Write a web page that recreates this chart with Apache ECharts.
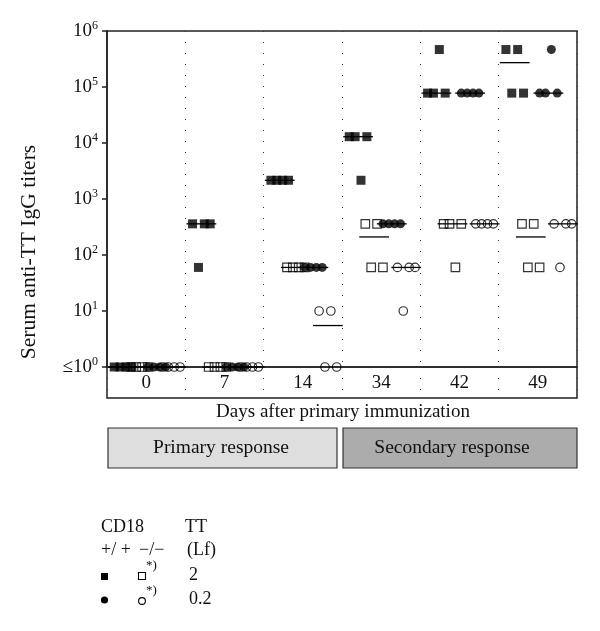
<!DOCTYPE html>
<html><head><meta charset="utf-8">
<script src="https://cdn.jsdelivr.net/npm/echarts@6/dist/echarts.min.js"></script>
<style>html,body{margin:0;padding:0;background:#fff}#c{width:600px;height:631px}</style>
</head><body><div id="c"></div>
<script>
// ---- data ----
const days = ['0', '7', '14', '34', '42', '49'];
// serum anti-TT IgG titers per day, listed left-to-right as plotted
const wtHigh = [[1,1,1,1],[360,60,360,360],[2160,2160,2160,2160],[12960,12960,2160,12960],[77760,77760,466560,77760],[466560,77760,466560,77760]]; // CD18+/+, 2 Lf
const koHigh = [[1,1,1,1],[1,1,1,1],[60,60,60,60],[360,60,360,60],[360,360,60,360],[360,60,360,60]];        // CD18-/-, 2 Lf
const wtLow  = [[1,1,1,1],[1,1,1,1],[60,60,60,60],[360,360,360,360],[77760,77760,77760,77760],[77760,77760,466560,77760]]; // CD18+/+, 0.2 Lf
const koLow  = [[1,1,1,1],[1,1,1,1],[10,1,10,1],[60,10,60,60],[360,360,360,360],[360,60,360,360]];          // CD18-/-, 0.2 Lf
const yTicks = [1, 10, 100, 1000, 10000, 100000, 1000000];

// ---- layout ----
const FONT = 'Liberation Serif';
const groupData = [wtHigh, koHigh, wtLow, koLow];
const groupOffset = [0.205, 0.41, 0.635, 0.82];
const step = 0.075, half = 0.19;
const symbols = ['rect', 'rect', 'circle', 'circle'];
const filled = [true, false, true, false];

function median(a) {
  const s = a.slice().sort((p, q) => p - q), n = s.length;
  return n % 2 ? s[(n - 1) / 2] : (s[n / 2 - 1] + s[n / 2]) / 2;
}

const series = [];
const medData = [];
groupData.forEach((g, gi) => {
  const pts = [];
  g.forEach((vals, d) => {
    const n = vals.length;
    const cx = d + groupOffset[gi];
    vals.forEach((v, j) => pts.push([cx + (j - (n - 1) / 2) * step, v]));
    medData.push([cx, median(vals)]);
  });
  series.push({
    type: 'scatter', xAxisIndex: 0, yAxisIndex: 0, data: pts, z: 3,
    symbol: symbols[gi], symbolSize: filled[gi] ? 9 : 8.5,
    itemStyle: filled[gi] ? { color: '#000' } : { color: 'rgba(0,0,0,0)', borderColor: '#000', borderWidth: 1.2 },
    emphasis: { disabled: true }
  });
});
series.unshift({
  type: 'custom', xAxisIndex: 0, yAxisIndex: 0, data: medData, z: 2,
  renderItem: (params, api) => {
    const x = api.value(0), y = api.value(1);
    const p1 = api.coord([x - half, y]), p2 = api.coord([x + half, y]);
    return { type: 'line', shape: { x1: p1[0], y1: p1[1], x2: p2[0], y2: p2[1] }, style: { stroke: '#000', lineWidth: 1.3 } };
  }
});

const dotted = { show: true, lineStyle: { type: [1, 10], color: '#333', width: 1 } };
const txt = (text, x, y, size, align, extra) => Object.assign({
  type: 'text', x: x, y: y,
  style: { text: text, font: size + 'px "' + FONT + '"', fill: '#111', align: align || 'left', textAlign: align || 'left', verticalAlign: 'middle', textVerticalAlign: 'middle' }
}, extra || {});

const chart = echarts.init(document.getElementById('c'));
chart.setOption({
  animation: false,
  backgroundColor: '#fff',
  grid: [
    { left: 107, right: 23, top: 31, height: 336, show: true, borderColor: '#222', borderWidth: 1.5 },
    { left: 107, right: 23, top: 367, height: 31, show: true, borderColor: '#222', borderWidth: 1.5 }
  ],
  xAxis: [
    { type: 'value', gridIndex: 0, min: 0, max: 6, interval: 1, axisLabel: { show: false }, axisTick: { show: false }, axisLine: { show: false }, splitLine: dotted },
    { type: 'category', gridIndex: 1, data: days, boundaryGap: true, axisTick: { show: false }, axisLine: { show: false }, splitLine: dotted,
      axisLabel: { inside: true, margin: 5, color: '#111', fontFamily: FONT, fontSize: 19 } }
  ],
  yAxis: [
    { type: 'log', logBase: 10, gridIndex: 0, min: yTicks[0], max: yTicks[yTicks.length - 1],
      axisLine: { show: true, lineStyle: { color: '#222', width: 1.5 } },
      axisTick: { show: true, length: 5, lineStyle: { color: '#222', width: 1.5 } },
      splitLine: { show: false }, minorTick: { show: false },
      axisLabel: {
        margin: 9, color: '#111',
        formatter: v => { const e = Math.round(Math.log10(v)); return '{b|' + (e === 0 ? '≤' : '') + '10}{s|' + e + '}'; },
        rich: { b: { fontFamily: FONT, fontSize: 19, lineHeight: 22, color: '#111' }, s: { fontFamily: FONT, fontSize: 12, lineHeight: 12, verticalAlign: 'top', color: '#111' } }
      } },
    { type: 'value', gridIndex: 1, show: false }
  ],
  series: series,
  graphic: [
    txt('Serum anti-TT IgG titers', 29, 252, 21.5, 'center', { rotation: Math.PI / 2 }),
    txt('Days after primary immunization', 343, 412, 19, 'center'),
    { type: 'rect', shape: { x: 108, y: 428, width: 229, height: 40 }, style: { fill: '#dedede', stroke: '#333', lineWidth: 1.2 } },
    { type: 'rect', shape: { x: 343, y: 428, width: 234, height: 40 }, style: { fill: '#acacac', stroke: '#333', lineWidth: 1.2 } },
    txt('Primary response', 221, 448, 19.5, 'center'),
    txt('Secondary response', 452, 448, 19.5, 'center'),
    txt('CD18', 101, 527, 18),
    txt('TT', 185, 527, 18),
    txt('+/ +', 101, 550, 18),
    txt('−/−', 139, 550, 18),
    txt('(Lf)', 187, 550, 18),
    { type: 'rect', shape: { x: 101, y: 573, width: 7, height: 7 }, style: { fill: '#000' } },
    { type: 'rect', shape: { x: 138.5, y: 572.5, width: 7, height: 7 }, style: { fill: 'none', stroke: '#000', lineWidth: 1.1 } },
    txt('*)', 146, 566, 13),
    txt('2', 189, 575, 18),
    { type: 'circle', shape: { cx: 104.5, cy: 600, r: 3.6 }, style: { fill: '#000' } },
    { type: 'circle', shape: { cx: 142, cy: 601, r: 3.4 }, style: { fill: 'none', stroke: '#000', lineWidth: 1.1 } },
    txt('*)', 146, 591, 13),
    txt('0.2', 189, 599, 18)
  ]
});
</script></body></html>
